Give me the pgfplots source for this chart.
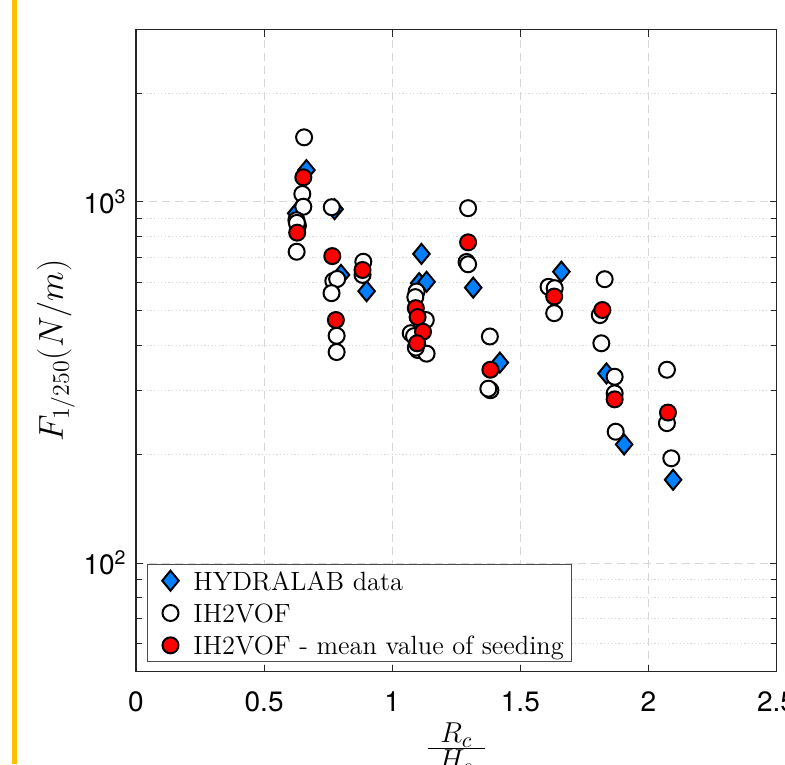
\documentclass[border=0pt]{standalone}
\usepackage{fontspec}
\newfontfamily\helv{TeX Gyre Heros}
\usepackage{pgfplots}
\pgfplotsset{compat=1.18}
\definecolor{hblue}{RGB}{0,128,255}
\definecolor{gridc}{RGB}{215,215,215}
\definecolor{barcol}{RGB}{255,192,0}
\pgfplotsset{limg/.style={legend image code/.code={\path[draw=none,fill=none] (-9.5pt,0pt) -- (9.5pt,0pt); \draw[##1] plot coordinates {(0pt,0pt)};}}}
\begin{document}
\begin{tikzpicture}
\useasboundingbox (-68pt,-46.15pt) rectangle (324.5pt,335.85pt);
\clip (-68pt,-46.15pt) rectangle (324.5pt,335.85pt);
\fill[barcol] (-62.2pt,-46.15pt) rectangle (-59.3pt,335.85pt);
\begin{axis}[
  at={(0pt,0pt)}, anchor=south west,
  scale only axis, width=320.3pt, height=321pt,
  xmin=0, xmax=2.5, ymode=log, ymin=50, ymax=3000,
  xtick={0,0.5,1,1.5,2,2.5},
  xticklabels={0,0.5,1,1.5,2,2.5},
  ytick={100,1000},
  yticklabels={10\textsuperscript{2},10\textsuperscript{3}},
  minor ytick={60,70,80,90,200,300,400,500,600,700,800,900,2000},
  xtick pos=both, ytick pos=both,
  tick align=inside,
  major tick length=3.5pt, minor tick length=2.8pt,
  tick style={black!85, line width=0.5pt},
  axis line style={black!85, line width=0.6pt},
  xmajorgrids=true, ymajorgrids=true, yminorgrids=true,
  major grid style={gridc, dash pattern=on 4pt off 2.5pt, line width=0.5pt},
  minor grid style={gridc, dash pattern=on 0.6pt off 1.2pt, line width=0.5pt},
  xticklabel style={font=\helv\fontsize{14}{16}\selectfont, inner sep=0pt, anchor=north, yshift=-10pt},
  yticklabel style={font=\helv\fontsize{14}{16}\selectfont, inner sep=0pt, anchor=east, xshift=-4.5pt},
  xlabel={\setlength{\arrayrulewidth}{0.8pt}\renewcommand{\arraystretch}{0.75}\begin{tabular}{@{\hspace{5.5pt}}c@{\hspace{5.5pt}}}$R_c$\\[-1.5pt]\hline$H_s$\end{tabular}},
  xlabel style={font=\fontsize{15}{18}\selectfont, at={(axis description cs:0.5,0)}, anchor=north, inner sep=0pt, yshift=-25.5pt},
  ylabel={$F_{1/250}(N/m)$},
  ylabel style={font=\LARGE, at={(axis description cs:-0.1249,0.5)}, anchor=center, inner sep=0pt},
  legend style={at={(axis description cs:0.01717,0.0151)}, anchor=south west,
    draw=black!70, line width=0.5pt, fill=white,
    font=\fontsize{13.2}{15.8}\selectfont,
    inner xsep=2pt, inner ysep=1.5pt, row sep=3pt,
    nodes={inner xsep=2pt, inner ysep=0.3pt},
    cells={anchor=west}},
]
\addplot[only marks, mark=diamond*, mark size=5pt, limg,
  mark options={fill=hblue, draw=black, line width=1pt, xscale=1.1}]
  coordinates {
  (0.665,1225) (0.625,930) (0.775,955) (0.800,628) (0.900,566)
  (1.105,596) (1.134,601) (1.114,718) (1.316,579) (1.420,359)
  (1.660,641) (1.836,335) (1.905,213) (2.096,170)
  };
\addlegendentry{\strut HYDRALAB data}
\addplot[only marks, mark=*, mark size=4pt, limg,
  mark options={fill=white, draw=black, line width=1pt}]
  coordinates {
  (0.656,1510) (0.649,1052) (0.653,970) (0.626,890) (0.632,860) (0.628,875) (0.627,728)
  (0.764,967) (0.770,604) (0.785,612) (0.763,559) (0.783,426) (0.783,384)
  (0.887,683) (0.884,628)
  (1.095,565) (1.090,545) (1.131,471) (1.072,433) (1.085,425) (1.100,389) (1.134,380) (1.092,395)
  (1.296,961) (1.290,682) (1.296,672) (1.381,424) (1.383,301) (1.375,304)
  (1.610,582) (1.634,577) (1.632,492)
  (1.829,611) (1.810,486) (1.816,406) (1.868,328) (1.868,295) (1.872,231)
  (2.072,343) (2.072,244) (2.089,195)
  };
\addlegendentry{\strut IH2VOF}
\addplot[only marks, mark=*, mark size=4pt, limg,
  mark options={fill=red, draw=black, line width=1pt}]
  coordinates {
  (0.653,1170) (0.629,822) (0.766,708) (0.780,471) (0.884,648)
  (1.092,508) (1.099,480) (1.120,437) (1.097,406)
  (1.296,773) (1.383,343) (1.632,547) (1.820,502) (1.868,284) (2.076,261)
  };
\addlegendentry{\strut IH2VOF - mean value of seeding}
\end{axis}
\end{tikzpicture}
\end{document}
